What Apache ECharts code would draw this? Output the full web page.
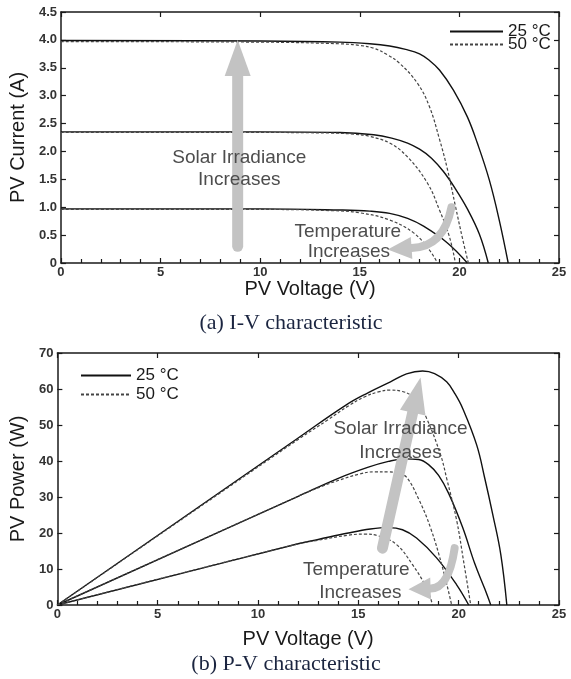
<!DOCTYPE html>
<html>
<head>
<meta charset="utf-8">
<script src="https://cdn.jsdelivr.net/npm/echarts@6/dist/echarts.min.js"></script>
<style>
html,body{margin:0;padding:0;background:#fff;}
#c{width:571px;height:679px;}
</style>
</head>
<body>
<div id="c"></div>
<script>
// ---------- DATA ----------
const legendNames = ['25 °C', '50 °C'];
const xTicks = [0, 5, 10, 15, 20, 25];
const ivTicks = [0, 0.5, 1.0, 1.5, 2.0, 2.5, 3.0, 3.5, 4.0, 4.5];
const pvTicks = [0, 10, 20, 30, 40, 50, 60, 70];

// I-V curves [V, I]
const iv25High = [[0,3.99],[10,3.98],[14,3.96],[15.5,3.93],[16.5,3.89],[17.3,3.83],[18,3.75],[18.5,3.63],[19,3.46],[19.7,3.10],[20.4,2.62],[20.9,2.15],[21.5,1.49],[22,0.77],[22.45,0]];
const iv50High = [[0,3.97],[10,3.96],[14,3.93],[15,3.90],[15.7,3.85],[16.4,3.73],[17,3.58],[17.9,3.22],[18.5,2.80],[19.0,2.22],[19.4,1.68],[19.8,1.02],[20.15,0.45],[20.45,0]];
const iv25Mid = [[0,2.35],[10,2.35],[14,2.34],[15.7,2.30],[16.6,2.24],[17.4,2.15],[18,2.04],[18.6,1.88],[19.2,1.64],[19.8,1.33],[20.4,0.97],[21.0,0.52],[21.45,0]];
const iv50Mid = [[0,2.34],[10,2.34],[13.5,2.33],[14.7,2.31],[15.5,2.27],[16.5,2.15],[17.4,1.90],[18.4,1.43],[19.0,0.95],[19.5,0.47],[19.8,0]];
const iv25Low = [[0,0.97],[10,0.97],[14,0.95],[15.5,0.93],[16.5,0.89],[17.4,0.80],[18.2,0.66],[19.4,0.36],[20.4,0]];
const iv50Low = [[0,0.96],[10,0.96],[13.5,0.94],[15,0.90],[16.5,0.77],[17.7,0.54],[18.5,0.23],[18.9,0]];

// P-V curves [V, P]
const pv25High = [[0,0],[12,46.4],[14.4,55.6],[15.5,59],[16.6,62.0],[17.4,64.2],[18.2,65.0],[18.8,64.3],[19.4,62.0],[19.8,58.8],[20.2,54.6],[20.9,44.4],[21.3,35.2],[21.7,25.1],[22.1,14.0],[22.4,0]];
const pv50High = [[0,0],[12,46],[13.5,51.5],[14.5,55.3],[15.3,57.8],[16.0,59.2],[16.6,59.7],[17.2,59.3],[17.6,58.3],[18.0,55.8],[18.4,51.9],[19.1,41.7],[19.4,35.2],[19.9,23.5],[20.25,12],[20.6,0]];
const pv25Mid = [[0,0],[12,30.2],[14,35.2],[15.5,38.3],[16.5,39.9],[17.3,40.6],[18.0,40.4],[18.5,39.0],[19.0,36.0],[19.5,31.0],[20.2,21.5],[20.8,11.5],[21.3,4.5],[21.6,0]];
const pv50Mid = [[0,0],[12,30.2],[13.2,33.0],[14,34.6],[15,36.3],[15.8,37.0],[16.5,37.0],[17.0,36.5],[17.4,35.5],[18.0,29.5],[18.6,21.4],[19.2,10.3],[19.65,0]];
const pv25Low = [[0,0],[12,17.0],[13,18.2],[14.5,20.0],[15.6,21.1],[16.5,21.5],[17.2,20.9],[17.9,18.6],[18.9,13.1],[19.9,5.6],[20.5,0]];
const pv50Low = [[0,0],[12,17.0],[13,18.0],[14.5,19.4],[15.3,19.7],[16.0,19.2],[16.9,16.8],[17.7,11.2],[18.4,4.7],[18.7,0]];

// Annotation anchors (data coordinates)
const ivIrrArrow = {from:[8.87,0.30], to:[8.87,4.0]};
const ivIrrText = [{t:'Solar Irradiance', p:[8.95,1.88]}, {t:'Increases', p:[8.95,1.49]}];
const ivTempArrow = {start:[19.6,1.0], ctrl:[19.2,0.28], end:[17.6,0.27], tip:[16.4,0.24]};
const ivTempText = [{t:'Temperature', p:[14.4,0.56]}, {t:'Increases', p:[14.45,0.20]}];
const pvIrrArrow = {from:[16.2,15.8], to:[18.1,63.2]};
const pvIrrText = [{t:'Solar Irradiance', p:[17.1,49.0]}, {t:'Increases', p:[17.1,42.4]}];
const pvTempArrow = {start:[19.8,15.8], ctrl:[19.5,4.5], end:[18.6,4.6], tip:[17.5,4.4]};
const pvTempText = [{t:'Temperature', p:[14.9,9.8]}, {t:'Increases', p:[15.1,3.3]}];

// ---------- CHART ----------
const FONT = 'Liberation Sans, Arial, sans-serif';
const chart = echarts.init(document.getElementById('c'), null, {renderer:'canvas'});

function xAxes(grid, name, gap) {
  const common = {gridIndex:grid, type:'value', min:xTicks[0], max:xTicks[xTicks.length-1], interval:5,
    splitLine:{show:false},
    axisLine:{show:true, onZero:false, lineStyle:{color:'#1a1a1a', width:1.5}},
    axisTick:{show:true, inside:true, length:5, lineStyle:{color:'#1a1a1a', width:1.2}}};
  return [
    Object.assign({}, common, {position:'bottom',
      minorTick:{show:true, splitNumber:5, length:4, lineStyle:{color:'#1a1a1a', width:1.2}},
      axisLabel:{show:true, color:'#333', fontFamily:FONT, fontSize:13, fontWeight:'bold', margin:3},
      name:name, nameLocation:'middle', nameGap:gap,
      nameTextStyle:{color:'#1a1a1a', fontFamily:FONT, fontSize:20}}),
    Object.assign({}, common, {position:'top', axisLabel:{show:false}})
  ];
}
function yAxes(grid, ticks, interval, name, fmt, gap) {
  const common = {gridIndex:grid, type:'value', min:ticks[0], max:ticks[ticks.length-1], interval:interval,
    splitLine:{show:false},
    axisLine:{show:true, onZero:false, lineStyle:{color:'#1a1a1a', width:1.5}},
    axisTick:{show:true, inside:true, length:5, lineStyle:{color:'#1a1a1a', width:1.2}}};
  return [
    Object.assign({}, common, {position:'left',
      axisLabel:{show:true, color:'#333', fontFamily:FONT, fontSize:13, fontWeight:'bold', margin:4, formatter:fmt},
      name:name, nameLocation:'middle', nameGap:gap, nameRotate:90,
      nameTextStyle:{color:'#1a1a1a', fontFamily:FONT, fontSize:20}}),
    Object.assign({}, common, {position:'right', axisLabel:{show:false}})
  ];
}

function mkSeries(name, data, grid, dashed) {
  return {
    name:name, type:'line', data:data, xAxisIndex:grid*2, yAxisIndex:grid*2,
    smooth:0.4, symbol:'none', silent:true, animation:false,
    lineStyle: dashed ? {color:'#444', width:1.2, type:[3,2]} : {color:'#111', width:1.4, type:'solid'},
    itemStyle:{color: dashed ? '#444' : '#111'}
  };
}

const series = [
  mkSeries(legendNames[0], iv25High, 0, false),
  mkSeries(legendNames[0], iv25Mid, 0, false),
  mkSeries(legendNames[0], iv25Low, 0, false),
  mkSeries(legendNames[1], iv50High, 0, true),
  mkSeries(legendNames[1], iv50Mid, 0, true),
  mkSeries(legendNames[1], iv50Low, 0, true),
  mkSeries(legendNames[0], pv25High, 1, false),
  mkSeries(legendNames[0], pv25Mid, 1, false),
  mkSeries(legendNames[0], pv25Low, 1, false),
  mkSeries(legendNames[1], pv50High, 1, true),
  mkSeries(legendNames[1], pv50Mid, 1, true),
  mkSeries(legendNames[1], pv50Low, 1, true)
];

const legendCommon = {orient:'vertical', data:legendNames, itemWidth:53, itemHeight:14,
  itemStyle:{opacity:0},
  textStyle:{color:'#1a1a1a', fontFamily:FONT, fontSize:17}, selectedMode:false, padding:0};

chart.setOption({
  animation:false,
  backgroundColor:'#fff',
  grid:[
    {left:60, top:12, right:12, height:251},
    {left:57, top:353, right:12, height:252}
  ],
  xAxis:[].concat(xAxes(0,'PV Voltage (V)', 15), xAxes(1,'PV Voltage (V)', 24)),
  yAxis:[].concat(
    yAxes(0, ivTicks, 0.5, 'PV Current (A)', v => v === 0 ? '0' : v.toFixed(1), 26),
    yAxes(1, pvTicks, 10, 'PV Power (W)', v => String(v), 26)
  ),
  legend:[
    Object.assign({}, legendCommon, {left:449, top:23, itemGap:-4}),
    Object.assign({}, legendCommon, {left:80, top:367, itemGap:2, itemWidth:50})
  ],
  series:series
});

// ---------- ANNOTATIONS ----------
const ARROW = '#c3c3c3';
const TXT = '#4d4d4d';
function px(grid, p) { return chart.convertToPixel({xAxisIndex:grid*2, yAxisIndex:grid*2}, p); }

function straightArrow(grid, a, shaftW, headLen, headW) {
  const p0 = px(grid, a.from), p1 = px(grid, a.to);
  const dx = p1[0]-p0[0], dy = p1[1]-p0[1], L = Math.hypot(dx,dy);
  const ux = dx/L, uy = dy/L, nx = -uy, ny = ux;
  const bx = p1[0]-ux*headLen, by = p1[1]-uy*headLen;
  return [
    {type:'line', z:50, shape:{x1:p0[0], y1:p0[1], x2:bx+ux*2, y2:by+uy*2},
      style:{stroke:ARROW, lineWidth:shaftW, lineCap:'round'}},
    {type:'polygon', z:50, shape:{points:[[p1[0],p1[1]],[bx+nx*headW/2, by+ny*headW/2],[bx-nx*headW/2, by-ny*headW/2]]},
      style:{fill:ARROW}}
  ];
}
function curvedArrow(grid, a, w, headW) {
  const s = px(grid, a.start), c = px(grid, a.ctrl), e = px(grid, a.end), t = px(grid, a.tip);
  const dx = t[0]-e[0], dy = t[1]-e[1], L = Math.hypot(dx,dy);
  const nx = -dy/L, ny = dx/L;
  return [
    {type:'bezierCurve', z:50, shape:{x1:s[0], y1:s[1], cpx1:c[0], cpy1:c[1], x2:e[0], y2:e[1]},
      style:{stroke:ARROW, lineWidth:w, lineCap:'round', fill:null}},
    {type:'polygon', z:50, shape:{points:[[t[0],t[1]],[e[0]+nx*headW/2, e[1]+ny*headW/2],[e[0]-nx*headW/2, e[1]-ny*headW/2]]},
      style:{fill:ARROW}}
  ];
}
function texts(grid, arr) {
  return arr.map(o => {
    const p = px(grid, o.p);
    return {type:'text', z:60, style:{text:o.t, x:p[0], y:p[1], fill:TXT, font:'19px ' + FONT,
      align:'center', verticalAlign:'middle'}};
  });
}

const captionStyle = {fill:'#1b2540', font:'22px Liberation Serif, Times New Roman, serif', align:'center', verticalAlign:'middle'};
const graphics = [].concat(
  straightArrow(0, ivIrrArrow, 11, 36, 26),
  curvedArrow(0, ivTempArrow, 8, 22),
  texts(0, ivIrrText),
  texts(0, ivTempText),
  straightArrow(1, pvIrrArrow, 11, 36, 26),
  curvedArrow(1, pvTempArrow, 8, 22),
  texts(1, pvIrrText),
  texts(1, pvTempText),
  [
    {type:'text', z:60, style:Object.assign({text:'(a) I-V characteristic', x:291, y:323}, captionStyle)},
    {type:'text', z:60, style:Object.assign({text:'(b) P-V characteristic', x:286, y:664}, captionStyle)}
  ]
);
chart.setOption({graphic:graphics});
</script>
</body>
</html>
